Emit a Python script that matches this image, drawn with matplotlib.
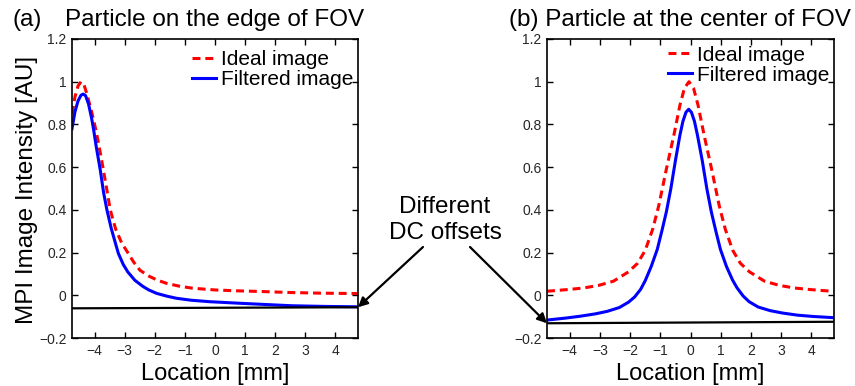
import matplotlib
matplotlib.use("Agg")
import matplotlib.pyplot as plt

plt.rcParams['font.family'] = ['Liberation Sans', 'DejaVu Sans']

# ---- data ----
# (a) particle on the edge of the FOV
edge_ideal_x = [-4.75, -4.65, -4.55, -4.45, -4.35, -4.25, -4.1, -3.95, -3.8, -3.7,
                -3.6, -3.48, -3.3, -3.1, -2.88, -2.7, -2.49, -2.2, -1.9, -1.61,
                -1.2, -0.74, 0.0, 0.7, 1.47, 2.5, 3.5, 4.75]
edge_ideal_y = [0.85, 0.93, 0.98, 1.0, 0.985, 0.94, 0.86, 0.77, 0.66, 0.58,
                0.50, 0.40, 0.31, 0.245, 0.196, 0.155, 0.117, 0.09, 0.07, 0.056,
                0.043, 0.033, 0.025, 0.021, 0.018, 0.013, 0.010, 0.008]

edge_filt_x = [-4.75, -4.65, -4.55, -4.45, -4.38, -4.3, -4.2, -4.1, -4.03, -3.95,
               -3.81, -3.7, -3.59, -3.45, -3.32, -3.21, -3.05, -2.9, -2.66, -2.4,
               -2.2, -1.94, -1.6, -1.28, -0.8, -0.18, 0.91, 1.8, 2.56, 3.6, 4.75]
edge_filt_y = [0.78, 0.86, 0.91, 0.937, 0.942, 0.935, 0.895, 0.83, 0.774, 0.70,
               0.586, 0.48, 0.40, 0.315, 0.25, 0.196, 0.145, 0.11, 0.07, 0.042,
               0.025, 0.009, -0.004, -0.014, -0.023, -0.030, -0.038, -0.044, -0.049, -0.052, -0.054]

edge_dc_x = [-4.75, 4.75]
edge_dc_y = [-0.061, -0.056]

# (b) particle at the centre of the FOV
center_ideal_x = [-4.75, -4.05, -3.55, -3.05, -2.55, -2.05, -1.75, -1.5, -1.25, -1.05,
                  -0.8, -0.55, -0.35, -0.2, -0.05, 0.1, 0.25, 0.45, 0.7, 0.95,
                  1.15, 1.4, 1.65, 1.95, 2.45, 2.95, 3.45, 3.95, 4.75]
center_ideal_y = [0.019, 0.027, 0.034, 0.046, 0.066, 0.11, 0.15, 0.21, 0.31, 0.42,
                  0.59, 0.75, 0.89, 0.97, 1.0, 0.97, 0.89, 0.75, 0.59, 0.42,
                  0.31, 0.21, 0.15, 0.11, 0.066, 0.046, 0.034, 0.027, 0.018]

center_filt_x = [-4.75, -4.15, -3.65, -3.15, -2.75, -2.35, -2.05, -1.85, -1.65, -1.5,
                 -1.3, -1.1, -0.95, -0.8, -0.65, -0.5, -0.35, -0.25, -0.15, -0.06,
                 0.03, 0.13, 0.23, 0.39, 0.54, 0.69, 0.84, 0.99, 1.19, 1.39,
                 1.54, 1.74, 1.94, 2.24, 2.64, 3.04, 3.54, 4.04, 4.75]
center_filt_y = [-0.116, -0.107, -0.098, -0.087, -0.075, -0.057, -0.032, -0.008, 0.028, 0.068,
                 0.135, 0.215, 0.30, 0.39, 0.50, 0.63, 0.75, 0.815, 0.857, 0.871,
                 0.857, 0.815, 0.75, 0.63, 0.50, 0.39, 0.30, 0.215, 0.135, 0.072,
                 0.035, -0.003, -0.030, -0.055, -0.072, -0.083, -0.093, -0.099, -0.105]

center_dc_x = [-4.75, 4.75]
center_dc_y = [-0.131, -0.124]

x_ticks = [-4, -3, -2, -1, 0, 1, 2, 3, 4]
x_tick_labels = ['\u22124', '\u22123', '\u22122', '\u22121', '0', '1', '2', '3', '4']
y_ticks = [-0.2, 0, 0.2, 0.4, 0.6, 0.8, 1.0, 1.2]
y_tick_labels = ['\u22120.2', '0', '0.2', '0.4', '0.6', '0.8', '1', '1.2']

W, H = 855, 386
fig = plt.figure(figsize=(W / 100, H / 100), dpi=100)


def px_box(left, top, right, bottom):
    return [left / W, 1 - bottom / H, (right - left) / W, (bottom - top) / H]


ax1 = fig.add_axes(px_box(72, 39, 358, 338))
ax2 = fig.add_axes(px_box(547, 39, 834, 338))


def draw_panel(ax, ix, iy, fx, fy, dx, dy, leg_anchor):
    ax.plot(ix, iy, color='#ff0000', lw=2.2, dashes=(2.6, 1.6), label='Ideal image')
    ax.plot(fx, fy, color='#0000ff', lw=2.2, label='Filtered image')
    ax.plot(dx, dy, color='black', lw=1.6)
    ax.set_xlim(-4.75, 4.75)
    ax.set_ylim(-0.2, 1.2)
    ax.set_xticks(x_ticks)
    ax.set_xticklabels(x_tick_labels)
    ax.set_yticks(y_ticks)
    ax.set_yticklabels(y_tick_labels)
    ax.tick_params(direction='in', top=True, right=True, length=4, width=1,
                   labelsize=10, labelcolor='#262626', pad=4)
    for s in ax.spines.values():
        s.set_linewidth(1.2)
    ax.set_xlabel('Location [mm]', fontsize=17, labelpad=4)
    ax.legend(loc='upper right', bbox_to_anchor=leg_anchor, frameon=False,
              fontsize=15, handlelength=1.15, handletextpad=0.25,
              labelspacing=0.05, borderpad=0, borderaxespad=0)


draw_panel(ax1, edge_ideal_x, edge_ideal_y, edge_filt_x, edge_filt_y,
           edge_dc_x, edge_dc_y, (0.985, 0.963))
draw_panel(ax2, center_ideal_x, center_ideal_y, center_filt_x, center_filt_y,
           center_dc_x, center_dc_y, (0.985, 0.978))

fig.text(27 / W, 1 - 190 / H, 'MPI Image Intensity [AU]', rotation=90,
         ha='center', va='center', fontsize=17.5)

# panel titles
fig.text(12 / W, 1 - 26 / H, '(a)', ha='left', va='baseline', fontsize=17.5)
fig.text(214.5 / W, 1 - 26 / H, 'Particle on the edge of FOV', ha='center',
         va='baseline', fontsize=17.5)
fig.text(680 / W, 1 - 26 / H, '(b) Particle at the center of FOV', ha='center',
         va='baseline', fontsize=17.5)

# DC offset annotation
fig.text(445 / W, 1 - 220 / H, 'Different\nDC offsets', ha='center', va='center',
         fontsize=17.5)
arrow = dict(arrowstyle='-|>', color='black', lw=1.6, mutation_scale=14,
             shrinkA=0, shrinkB=0)
ax1.annotate('', xy=(edge_dc_x[-1], edge_dc_y[-1]), xycoords='data',
             xytext=(423 / W, 1 - 247 / H), textcoords='figure fraction',
             arrowprops=arrow, annotation_clip=False)
ax2.annotate('', xy=(center_dc_x[0], center_dc_y[0]), xycoords='data',
             xytext=(470 / W, 1 - 247 / H), textcoords='figure fraction',
             arrowprops=arrow, annotation_clip=False)

fig.savefig('out.png', dpi=100)
